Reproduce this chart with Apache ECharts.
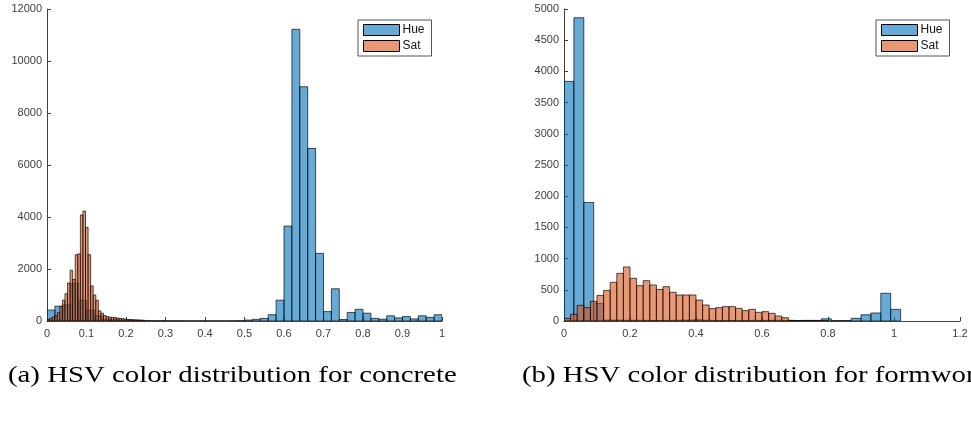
<!DOCTYPE html>
<html>
<head>
<meta charset="utf-8">
<script src="https://cdn.jsdelivr.net/npm/echarts@6/dist/echarts.min.js"></script>
<style>
html,body{margin:0;padding:0;background:#fff;}
#c{width:971px;height:421px;}
</style>
</head>
<body>
<div id="c"></div>
<script>
// ---- Data (a) concrete ----
const hueA_width = 0.02;
const hueA = [420,570,620,1450,800,420,200,70,50,40,30,25,20,15,15,12,12,10,10,10,10,10,10,12,15,35,65,100,240,800,3650,11220,9010,6640,2600,360,1240,60,330,450,300,100,70,200,120,170,80,200,140,240];
const satA_width = 0.0065;
const satA = [60,100,150,200,320,560,800,1050,1460,1950,1600,2550,2580,4080,4230,3600,2550,1350,1000,800,390,300,210,170,150,140,130,110,100,90,70,60,60,50,45,40,35,30];
// ---- Data (b) formwork ----
const hueB_width = 0.03;
const hueB = [3840,4860,1900,280,15,15,12,12,10,10,10,12,15,20,12,10,10,10,10,10,10,12,10,8,10,10,35,8,8,43,100,128,444,187];
const satB_width = 0.02;
const satB = [43,107,251,214,315,411,491,620,764,866,684,566,646,577,507,550,460,417,417,417,336,256,198,214,230,230,203,166,187,139,150,123,80,53,10,8,6,5,5,4];
// ---- Ticks ----
const yTicksA = {min:0, max:12000, interval:2000};
const xTicksA = {min:0, max:1, interval:0.1};
const yTicksB = {min:0, max:5000, interval:500};
const xTicksB = {min:0, max:1.2, interval:0.2};
const seriesNames = ['Hue','Sat'];
const captions = ['(a) HSV color distribution for concrete','(b) HSV color distribution for formwork'];

function bins(counts, width){
  return counts.map((c,i)=>[i*width,(i+1)*width,c]);
}
function renderBar(params, api){
  const x0 = api.value(0), x1 = api.value(1), y = api.value(2);
  const p0 = api.coord([x0, y]);
  const p1 = api.coord([x1, 0]);
  return {
    type:'rect',
    shape:{x:p0[0], y:p0[1], width:p1[0]-p0[0], height:p1[1]-p0[1]},
    style: api.style({stroke:'rgba(0,0,0,0.85)', lineWidth:0.8})
  };
}
const HUE = 'rgba(0,114,189,0.6)';
const SAT = 'rgba(217,83,25,0.6)';
const labelFont = {color:'#404040', fontSize:11, fontFamily:'Liberation Sans, Arial, sans-serif'};
function fmtX(v){ return String(Math.round(v*10)/10); }
function fmtY(v){ return String(Math.round(v)); }

function xAxis(idx, t){
  return {type:'value', gridIndex:idx, min:t.min, max:t.max, interval:t.interval,
    axisLine:{show:true, lineStyle:{color:'#404040', width:1}},
    axisTick:{show:true, inside:true, length:4, lineStyle:{color:'#404040'}},
    axisLabel:Object.assign({margin:7, formatter:fmtX}, labelFont),
    splitLine:{show:false}};
}
function yAxis(idx, t){
  return {type:'value', gridIndex:idx, min:t.min, max:t.max, interval:t.interval,
    axisLine:{show:true, lineStyle:{color:'#404040', width:1}},
    axisTick:{show:true, inside:true, length:4, lineStyle:{color:'#404040'}},
    axisLabel:Object.assign({margin:5, formatter:fmtY}, labelFont),
    splitLine:{show:false}};
}
function series(name, data, color, idx){
  return {type:'custom', name:name, xAxisIndex:idx, yAxisIndex:idx,
    renderItem:renderBar, itemStyle:{color:color}, encode:{x:[0,1], y:2},
    data:data, clip:true};
}
function legend(left){
  return {show:true, left:left, top:20, orient:'vertical', itemWidth:36, itemHeight:11, itemGap:4,
    padding:[4,7,4,5], backgroundColor:'#fff', borderColor:'#555', borderWidth:1,
    icon:'rect',
    data:seriesNames.map(n=>({name:n, itemStyle:{borderColor:'#000', borderWidth:1}})),
    textStyle:{color:'#111', fontSize:12, fontFamily:'Liberation Sans, Arial, sans-serif', padding:[0,0,0,-2]},
    selectedMode:false};
}

const chart = echarts.init(document.getElementById('c'), null, {renderer:'canvas'});
chart.setOption({
  animation:false,
  backgroundColor:'#fff',
  grid:[
    {left:47, right:529, top:9, bottom:100},
    {left:564, right:11, top:9, bottom:100}
  ],
  xAxis:[xAxis(0,xTicksA), xAxis(1,xTicksB)],
  yAxis:[yAxis(0,yTicksA), yAxis(1,yTicksB)],
  legend:[legend(358), legend(876)],
  series:[
    series(seriesNames[0], bins(hueA,hueA_width), HUE, 0),
    series(seriesNames[1], bins(satA,satA_width), SAT, 0),
    series(seriesNames[0], bins(hueB,hueB_width), HUE, 1),
    series(seriesNames[1], bins(satB,satB_width), SAT, 1)
  ],
  graphic:[
    {type:'text', x:8, y:364, scaleX:1.2, style:{text:captions[0], fontSize:24, fontFamily:'Liberation Serif, serif', fill:'#000'}},
    {type:'text', x:522, y:364, scaleX:1.2, style:{text:captions[1], fontSize:24, fontFamily:'Liberation Serif, serif', fill:'#000'}}
  ]
});
</script>
</body>
</html>
